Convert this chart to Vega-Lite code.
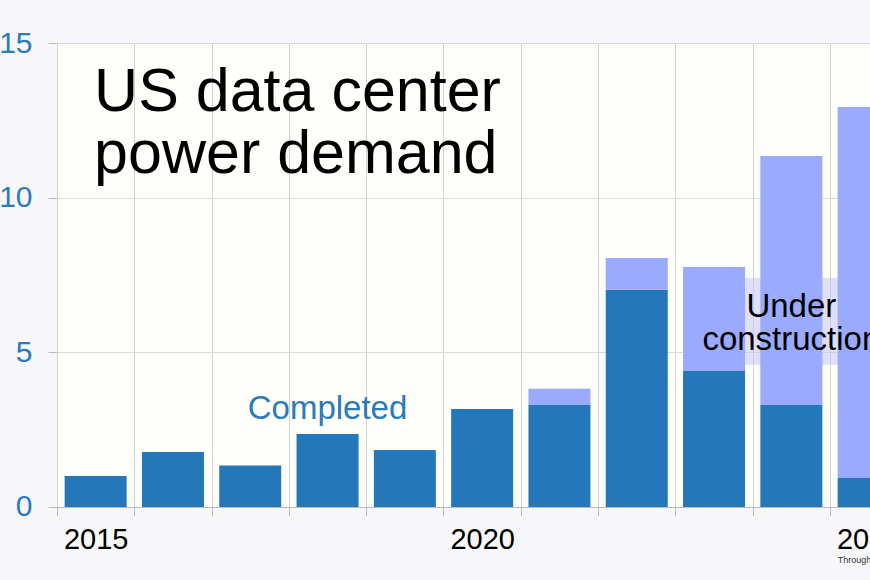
{
  "$schema": "https://vega.github.io/schema/vega-lite/v6.json",
  "width": 850.3,
  "height": 464,
  "autosize": "none",
  "padding": {"left": 57, "top": 43, "right": 0, "bottom": 73},
  "background": "#f7f7f9",
  "view": {"fill": "#fefefa", "stroke": null},
  "config": {"font": "Liberation Sans"},
  "encoding": {
    "x": {
      "field": "year",
      "type": "quantitative",
      "scale": {"domain": [2014.5, 2025.5], "nice": false, "zero": false, "padding": 0},
      "axis": {
        "title": null,
        "values": [2014.5, 2015.5, 2016.5, 2017.5, 2018.5, 2019.5, 2020.5, 2021.5, 2022.5, 2023.5, 2024.5, 2025.5],
        "grid": true,
        "gridColor": "#d3d3d3",
        "tickColor": "#bbbbbb",
        "tickSize": 9,
        "domainColor": "#bbbbbb",
        "labelExpr": "indexof([2015,2020,2025], datum.value + 0.5) >= 0 ? format(datum.value + 0.5, 'd') : ''",
        "labelOffset": 38.65,
        "labelFontSize": 29,
        "labelColor": "#000000",
        "labelPadding": 10,
        "labelOverlap": false,
        "labelFlush": false
      }
    },
    "y": {
      "field": "value",
      "type": "quantitative",
      "scale": {"domain": [0, 15], "nice": false},
      "axis": {
        "title": null,
        "values": [0, 5, 10, 15],
        "grid": true,
        "gridColor": "#dadada",
        "tickColor": "#bbbbbb",
        "tickSize": 9,
        "domain": false,
        "labelColor": "#2b7bba",
        "labelFontSize": 30,
        "labelPadding": 16
      }
    }
  },
  "layer": [
    {
      "data": {"values": [{"year": 2022.7, "year_end": 2025.3, "value": 4.6, "value_end": 7.4}]},
      "mark": {"type": "rect", "color": "#c4c4f6", "opacity": 0.55},
      "encoding": {
        "x2": {"field": "year_end"},
        "y2": {"field": "value_end"}
      }
    },
    {
      "data": {"values": [
        {"year": 2015, "stage": "Completed", "value": 1.0},
        {"year": 2016, "stage": "Completed", "value": 1.78},
        {"year": 2017, "stage": "Completed", "value": 1.34},
        {"year": 2018, "stage": "Completed", "value": 2.36},
        {"year": 2019, "stage": "Completed", "value": 1.84},
        {"year": 2020, "stage": "Completed", "value": 3.17},
        {"year": 2021, "stage": "Completed", "value": 3.31},
        {"year": 2022, "stage": "Completed", "value": 7.02},
        {"year": 2023, "stage": "Completed", "value": 4.4},
        {"year": 2024, "stage": "Completed", "value": 3.3},
        {"year": 2025, "stage": "Completed", "value": 0.94},
        {"year": 2021, "stage": "Under construction", "value": 0.51},
        {"year": 2022, "stage": "Under construction", "value": 1.03},
        {"year": 2023, "stage": "Under construction", "value": 3.36},
        {"year": 2024, "stage": "Under construction", "value": 8.05},
        {"year": 2025, "stage": "Under construction", "value": 11.99}
      ]},
      "mark": {"type": "bar", "width": 62},
      "encoding": {
        "y": {"field": "value", "type": "quantitative", "stack": "zero"},
        "color": {
          "field": "stage",
          "type": "nominal",
          "scale": {"domain": ["Completed", "Under construction"], "range": ["#2477b9", "#9aaaff"]},
          "legend": null
        },
        "order": {"field": "stage", "sort": "ascending"}
      }
    },
    {
      "data": {"values": [{"year": 2014.98, "value": 12.8, "label": "US data center\npower demand"}]},
      "mark": {"type": "text", "align": "left", "baseline": "alphabetic", "fontSize": 61, "lineHeight": 62, "lineBreak": "\n", "color": "#000000"},
      "encoding": {"text": {"field": "label"}}
    },
    {
      "data": {"values": [{"year": 2018.0, "value": 2.85, "label": "Completed"}]},
      "mark": {"type": "text", "align": "center", "baseline": "alphabetic", "fontSize": 33, "color": "#2b7bba"},
      "encoding": {"text": {"field": "label"}}
    },
    {
      "data": {"values": [{"year": 2024.0, "value": 6.14, "label": "Under\nconstruction"}]},
      "mark": {"type": "text", "align": "center", "baseline": "alphabetic", "fontSize": 33, "lineHeight": 33, "lineBreak": "\n", "color": "#000000"},
      "encoding": {"text": {"field": "label"}}
    },
    {
      "data": {"values": [{"year": 2024.6, "value": -1.81, "label": "Through mid-2025"}]},
      "mark": {"type": "text", "align": "left", "baseline": "alphabetic", "fontSize": 9, "color": "#333333"},
      "encoding": {"text": {"field": "label"}}
    }
  ]
}
